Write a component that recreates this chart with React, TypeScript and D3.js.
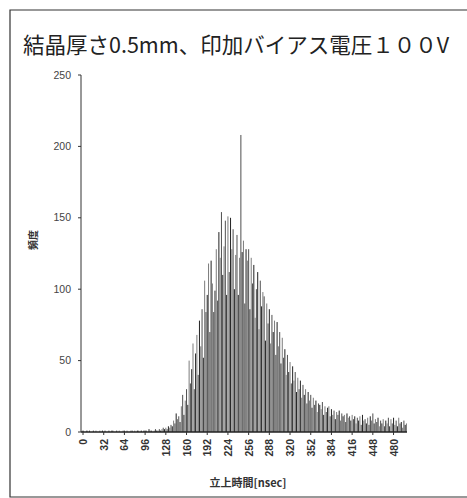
import * as d3 from "d3";
import * as React from "react";

// rise time bins, 2 ns wide: 0, 2, ..., 500
const binStart = 0;
const binStep = 2;

// frequency per bin
const counts: number[] = [
  // 0 - 126 ns
  1, 0, 0, 1, 0, 1, 0, 0, 1, 0, 1, 0, 0, 1, 0, 1,
  0, 1, 0, 0, 1, 0, 1, 1, 0, 0, 1, 0, 1, 0, 0, 1,
  1, 0, 1, 0, 0, 1, 1, 0, 1, 0, 1, 1, 0, 1, 0, 1,
  1, 1, 0, 2, 1, 1, 0, 1, 2, 1, 1, 2, 1, 2, 3, 2,
  // 128 - 158
  3, 2, 4, 3, 5, 4, 8, 6, 13, 9, 11, 7, 18, 26, 12, 22,
  // 160 - 190
  30, 19, 50, 34, 44, 62, 30, 55, 68, 40, 78, 60, 86, 52, 106, 84,
  // 192 - 222
  96, 118, 70, 120, 104, 84, 99, 128, 92, 140, 122, 154, 110, 130, 148, 96,
  // 224 - 254
  151, 112, 150, 128, 142, 100, 124, 138, 96, 122, 208, 126, 134, 90, 128, 120,
  // 256 - 286
  128, 86, 122, 104, 117, 80, 100, 112, 72, 106, 88, 98, 95, 64, 90, 76,
  // 288 - 318
  86, 62, 82, 70, 78, 54, 77, 60, 70, 48, 66, 52, 58, 40, 54, 42,
  // 320 - 350
  49, 34, 46, 36, 42, 28, 38, 30, 36, 24, 33, 26, 30, 20, 28, 22,
  // 352 - 382
  26, 17, 24, 19, 22, 14, 20, 19, 16, 21, 12, 18, 14, 17, 18, 11,
  // 384 - 414
  16, 12, 15, 9, 14, 12, 15, 8, 13, 11, 12, 7, 13, 10, 11, 8,
  // 416 - 446
  12, 9, 11, 6, 10, 8, 11, 5, 12, 8, 9, 6, 10, 5, 11, 8,
  // 448 - 478
  13, 6, 9, 7, 10, 4, 8, 6, 9, 4, 8, 6, 10, 4, 9, 6,
  // 480 - 500
  10, 5, 8, 4, 10, 6, 7, 3, 8, 5, 6,
];

const categories = counts.map((_, i) => binStart + i * binStep);
const xTickLabels = [0, 32, 64, 96, 128, 160, 192, 224, 256, 288, 320, 352, 384, 416, 448, 480];
const yTicks = [0, 50, 100, 150, 200, 250];

const title = "結晶厚さ0.5mm、印加バイアス電圧１００V";
const xTitle = "立上時間[nsec]";
const yTitle = "頻度";

const W = 467;
const H = 498;
const plot = { left: 81, right: 407, top: 75, bottom: 432 };

export default function App() {
  const x = d3
    .scaleBand<number>()
    .domain(categories)
    .range([plot.left + 1.5, plot.right])
    .paddingInner(0.2)
    .paddingOuter(0);
  const y = d3.scaleLinear().domain([0, 250]).range([plot.bottom, plot.top]);

  const numFont = "'Liberation Sans', Arial, sans-serif";
  const jpFont = "'Noto Sans CJK JP', sans-serif";

  return (
    <svg
      width={W}
      height={H}
      style={{ position: "absolute", left: 0, top: 0, background: "#fff" }}
    >
      {/* outer frame */}
      <path d={`M470,10 H10 V497 H470`} fill="none" stroke="#333" strokeWidth={1.2} />

      <text x={23} y={53} fontFamily={jpFont} fontSize={21.5} fill="#222">
        {title}
      </text>

      {/* bars */}
      <g>
        {counts.map((c, i) => {
          const cat = categories[i];
          const top = y(c);
          return (
            <rect
              key={cat}
              x={x(cat)}
              y={top}
              width={x.bandwidth()}
              height={plot.bottom - top}
              fill={i % 3 === 0 ? "#2a2a2a" : i % 3 === 1 ? "#808080" : "#555"}
            />
          );
        })}
      </g>

      {/* y axis */}
      <line x1={plot.left} x2={plot.left} y1={plot.top} y2={plot.bottom} stroke="#333" strokeWidth={1} />
      {yTicks.map((t) => (
        <g key={t} transform={`translate(0,${y(t)})`}>
          <line x1={plot.left - 3} x2={plot.left} stroke="#333" />
          <text
            x={plot.left - 10}
            dy="0.35em"
            textAnchor="end"
            fontFamily={numFont}
            fontSize={10.5}
            fill="#444"
          >
            {t}
          </text>
        </g>
      ))}
      <text
        transform={`translate(37,240) rotate(-90)`}
        textAnchor="middle"
        fontFamily={jpFont}
        fontWeight="bold"
        fontSize={10}
        fill="#333"
      >
        {yTitle}
      </text>

      {/* x axis */}
      <line x1={plot.left} x2={plot.right} y1={plot.bottom} y2={plot.bottom} stroke="#222" strokeWidth={1.6} />
      {xTickLabels.map((t) => {
        const cx = (x(t) ?? 0) + x.bandwidth() / 2;
        return (
          <g key={t}>
            <line x1={cx} x2={cx} y1={plot.bottom} y2={plot.bottom + 3} stroke="#333" />
            <text
              transform={`translate(${cx + 4},${plot.bottom + 7}) rotate(-90)`}
              textAnchor="end"
              fontFamily={numFont}
              fontWeight="bold"
              fontSize={10.5}
              fill="#333"
            >
              {t}
            </text>
          </g>
        );
      })}
      <text
        x={248}
        y={487}
        textAnchor="middle"
        fontFamily={jpFont}
        fontWeight="bold"
        fontSize={11}
        fill="#333"
      >
        {xTitle}
      </text>
    </svg>
  );
}
